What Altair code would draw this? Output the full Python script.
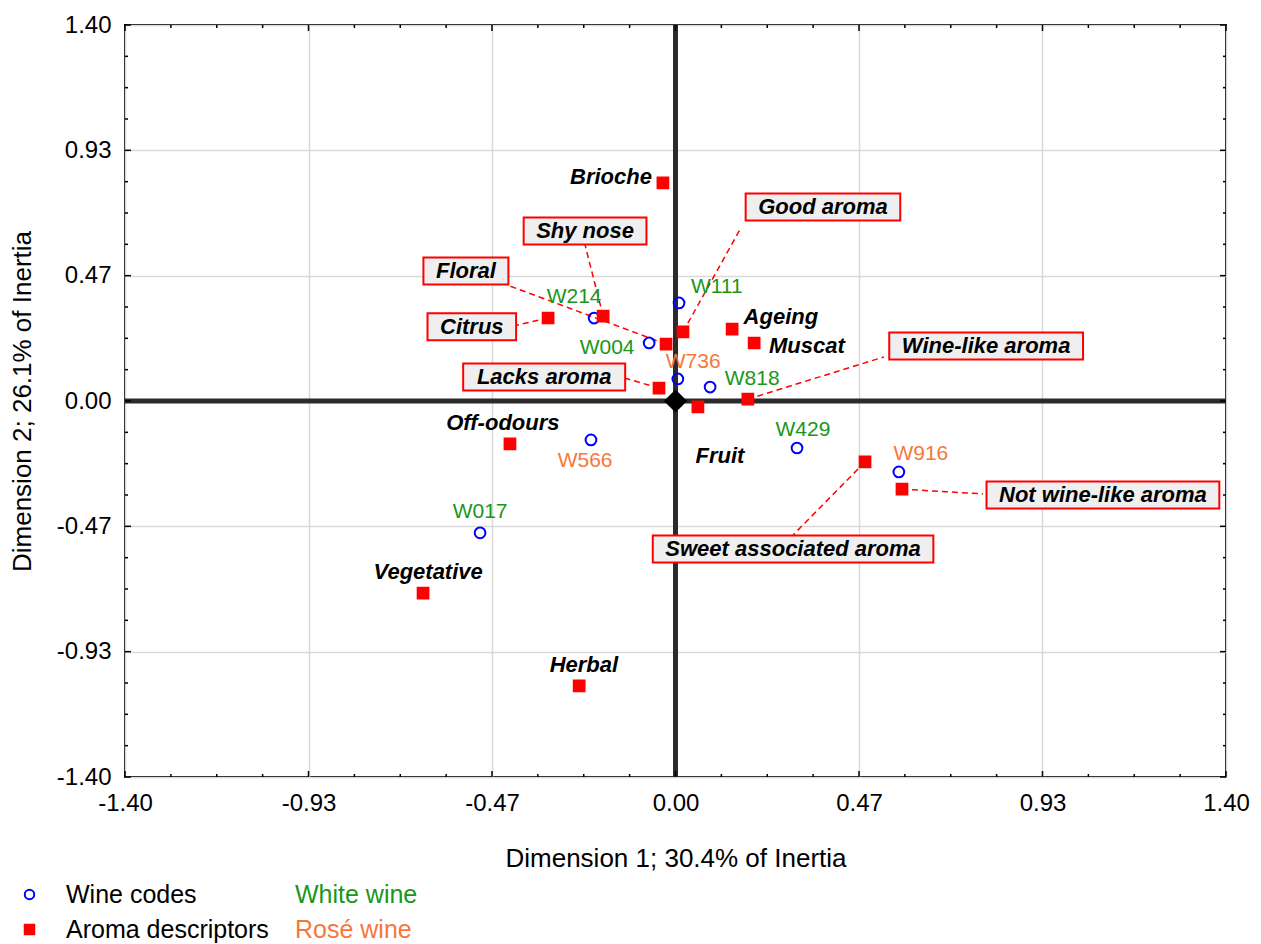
import altair as alt
import pandas as pd

# ---------------- data ----------------
wine_codes = ["W214", "W111", "W004", "W736", "W818", "W566", "W429", "W916", "W017"]
wine_type = ["White wine", "White wine", "White wine", "Rosé wine", "White wine",
             "Rosé wine", "White wine", "Rosé wine", "White wine"]
wine_dim1 = [-0.207, 0.009, -0.067, 0.006, 0.088, -0.215, 0.309, 0.568, -0.497]
wine_dim2 = [0.309, 0.365, 0.216, 0.082, 0.052, -0.145, -0.175, -0.264, -0.491]
wine_label_dim1 = [-0.258, 0.105, -0.174, 0.045, 0.195, -0.230, 0.324, 0.624, -0.497]
wine_label_dim2 = [0.387, 0.424, 0.197, 0.145, 0.082, -0.223, -0.108, -0.197, -0.413]

descriptors = ["Brioche", "Citrus", "Shy nose", "Floral", "Good aroma", "Ageing", "Muscat",
               "Lacks aroma", "Fruit", "Wine-like aroma", "Off-odours",
               "Sweet associated aroma", "Not wine-like aroma", "Vegetative", "Herbal"]
desc_dim1 = [-0.032, -0.324, -0.184, -0.024, 0.019, 0.144, 0.200, -0.042, 0.057, 0.184,
             -0.421, 0.482, 0.576, -0.642, -0.245]
desc_dim2 = [0.812, 0.309, 0.316, 0.212, 0.257, 0.268, 0.216, 0.048, -0.022, 0.007,
             -0.160, -0.227, -0.328, -0.715, -1.061]
desc_boxed = [False, True, True, True, True, False, False, True, False, True, False,
              True, True, False, False]
desc_label_dim1 = [-0.164, -0.518, -0.230, -0.533, 0.375, 0.268, 0.334, -0.334, 0.113, 0.790,
                   -0.439, 0.299, 1.087, -0.629, -0.233]
desc_label_dim2 = [0.834, 0.276, 0.633, 0.484, 0.722, 0.313, 0.205, 0.089, -0.205, 0.205,
                   -0.082, -0.551, -0.350, -0.637, -0.983]
leader_end_dim1 = [None, -0.413, -0.230, -0.421, 0.166, None, None, -0.131, None, 0.530,
                   None, 0.299, 0.782, None, None]
leader_end_dim2 = [None, 0.279, 0.581, 0.428, 0.644, None, None, 0.086, None, 0.164,
                   None, -0.499, -0.346, None, None]

origin_dim1 = [0.0]
origin_dim2 = [0.0]

kind_domain = ["Wine codes", "Aroma descriptors"]
type_domain = ["White wine", "Rosé wine"]
tick_labels_step = 1.4 / 3

# ---------------- style ----------------
W, H = 1101, 752
FONT = "Liberation Sans"
GREEN = "#1a961a"
ORANGE = "#f7773a"
BLUE = "#0000ff"
RED = "#ff0000"
LABEL_FS = 22
BOX_PAD = 12.5
BOX_HALF_H = 13.5

# Arial/Liberation bold advance widths (per 1000 em)
BOLD_W = {" ": 278, "-": 333, "A": 722, "C": 722, "F": 611, "G": 778, "L": 722, "N": 722,
          "S": 667, "W": 944, "a": 556, "c": 556, "d": 611, "e": 556, "i": 278, "k": 556,
          "l": 278, "m": 889, "n": 611, "o": 611, "r": 389, "s": 556, "t": 333, "u": 611,
          "w": 778, "y": 556, "h": 611, "f": 333, "g": 611, "b": 611, "v": 556, "p": 611}


def box_path(text):
    w = sum(BOLD_W.get(ch, 600) for ch in text) / 1000.0 * LABEL_FS
    hw = w / 2 + BOX_PAD
    return f"M{-hw:.1f},{-BOX_HALF_H}H{hw:.1f}V{BOX_HALF_H}H{-hw:.1f}Z"


major = [round(-1.4 + i * tick_labels_step, 6) for i in range(7)]
minor = [round(-1.4 + i * tick_labels_step / 4, 6) for i in range(25) if i % 4 != 0]

XS = alt.Scale(domain=[-1.4, 1.4], nice=False, zero=False)
YS = alt.Scale(domain=[-1.4, 1.4], nice=False, zero=False)

HYPHEN_LABEL = "replace(datum.label, '\u2212', '-')"

XAXIS = alt.Axis(values=major, format=".2f", labelExpr=HYPHEN_LABEL,
                 title="Dimension 1; 30.4% of Inertia",
                 ticks=False, domain=False, grid=True, gridColor="#d9d9d9", gridWidth=1.5,
                 labelFontSize=24, labelPadding=14, labelColor="black", labelFont=FONT,
                 labelFlush=False, labelOverlap=False,
                 titleFontSize=26, titleFontWeight="normal", titleColor="black", titleFont=FONT,
                 titleY=81, titleBaseline="middle")
YAXIS = alt.Axis(values=major, format=".2f", labelExpr=HYPHEN_LABEL,
                 title="Dimension 2; 26.1% of Inertia",
                 ticks=False, domain=False, grid=True, gridColor="#d9d9d9", gridWidth=1.5,
                 labelFontSize=24, labelPadding=14, labelColor="black", labelFont=FONT,
                 labelFlush=False, labelOverlap=False,
                 titleFontSize=26, titleFontWeight="normal", titleColor="black", titleFont=FONT,
                 titleX=-103, titleY=H / 2, titleAngle=270, titleBaseline="middle",
                 titleAlign="center")


def X(f):
    return alt.X(f, type="quantitative", scale=XS, axis=XAXIS)


def Y(f):
    return alt.Y(f, type="quantitative", scale=YS, axis=YAXIS)


# ---------------- tables ----------------
wines = pd.DataFrame({"name": wine_codes, "type": wine_type, "x": wine_dim1, "y": wine_dim2,
                      "lx": wine_label_dim1, "ly": wine_label_dim2, "kind": "Wine codes"})
desc = pd.DataFrame({"name": descriptors, "x": desc_dim1, "y": desc_dim2, "boxed": desc_boxed,
                     "lx": desc_label_dim1, "ly": desc_label_dim2,
                     "ex": leader_end_dim1, "ey": leader_end_dim2, "kind": "Aroma descriptors"})
desc["path"] = [box_path(t) for t in desc["name"]]
boxed = desc[desc["boxed"]].copy()
plain = desc[~desc["boxed"]].copy()
points = pd.concat([wines[["name", "x", "y", "kind"]], desc[["name", "x", "y", "kind"]]],
                   ignore_index=True)
origin = pd.DataFrame({"x": origin_dim1, "y": origin_dim2})
zero = pd.DataFrame({"z": [0.0]})

layers = []

# thick zero axes
layers.append(alt.Chart(zero).mark_rule(color="#2b2b2b", strokeWidth=5).encode(x=X("z")))
layers.append(alt.Chart(zero).mark_rule(color="#2b2b2b", strokeWidth=5).encode(y=Y("z")))

# inward ticks on all four sides
for vals, L in ((major, 6), (minor, 3)):
    tdf = pd.DataFrame({"v": vals})
    base = alt.Chart(tdf).mark_rule(color="black", strokeWidth=1.5)
    layers.append(base.encode(x=X("v"), y=alt.value(H), y2=alt.value(H - L)))
    layers.append(base.encode(x=X("v"), y=alt.value(0), y2=alt.value(L)))
    layers.append(base.encode(y=Y("v"), x=alt.value(0), x2=alt.value(L)))
    layers.append(base.encode(y=Y("v"), x=alt.value(W), x2=alt.value(W - L)))

# leader lines
layers.append(alt.Chart(boxed).mark_rule(color=RED, strokeWidth=1.5, strokeDash=[6, 4]).encode(
    x=X("x"), y=Y("y"), x2="ex", y2="ey"))

# label boxes
layers.append(alt.Chart(boxed).mark_point(filled=True, color="#efefef", stroke=RED,
                                          strokeWidth=2, opacity=1).encode(
    x=X("lx"), y=Y("ly"), shape=alt.Shape("path:N", scale=None), size=alt.value(4)))
layers.append(alt.Chart(boxed).mark_text(font=FONT, fontSize=LABEL_FS, fontStyle="italic",
                                         fontWeight="bold", color="black", align="center",
                                         baseline="middle").encode(
    x=X("lx"), y=Y("ly"), text="name:N"))

# points
leg1 = alt.Legend(title=None, orient="none", legendX=-108, legendY=857, labelFontSize=25,
                  labelFont=FONT, labelColor="black", labelLimit=500, symbolStrokeWidth=2,
                  symbolSize=90, rowPadding=9, labelOffset=24, padding=0)
layers.append(alt.Chart(points).mark_point(size=115, strokeWidth=2, opacity=1).encode(
    x=X("x"), y=Y("y"),
    shape=alt.Shape("kind:N", scale=alt.Scale(domain=kind_domain, range=["circle", "square"]),
                    legend=leg1),
    fill=alt.Fill("kind:N", scale=alt.Scale(domain=kind_domain, range=["transparent", RED]),
                  legend=leg1),
    stroke=alt.Stroke("kind:N", scale=alt.Scale(domain=kind_domain, range=[BLUE, RED]),
                      legend=leg1)))

# wine code labels
leg2 = alt.Legend(title=None, orient="none", legendX=145, legendY=857, labelFontSize=25,
                  labelFont=FONT, labelLimit=500, symbolSize=1, symbolOpacity=0,
                  symbolStrokeWidth=0, rowPadding=9, labelOffset=0, padding=0,
                  labelColor=alt.ExprRef(expr=f"datum.value === 'White wine' ? '{GREEN}' : '{ORANGE}'"))
layers.append(alt.Chart(wines).mark_text(font=FONT, fontSize=21, align="center",
                                         baseline="middle").encode(
    x=X("lx"), y=Y("ly"), text="name:N",
    color=alt.Color("type:N", scale=alt.Scale(domain=type_domain, range=[GREEN, ORANGE]),
                    legend=leg2)))

# plain descriptor labels
layers.append(alt.Chart(plain).mark_text(font=FONT, fontSize=LABEL_FS, fontStyle="italic",
                                         fontWeight="bold", color="black", align="center",
                                         baseline="middle").encode(
    x=X("lx"), y=Y("ly"), text="name:N"))

# origin
layers.append(alt.Chart(origin).mark_point(shape="diamond", filled=True, color="black",
                                           size=540, opacity=1).encode(x=X("x"), y=Y("y")))

chart = alt.layer(*layers).properties(
    width=W, height=H,
    padding={"left": 117, "top": 17, "right": 25, "bottom": 175},
    autosize=alt.AutoSizeParams(type="none"),
).configure(font=FONT).configure_view(stroke="black", strokeWidth=2)

chart.save("out.html", embed_options={"renderer": "svg", "actions": False})
